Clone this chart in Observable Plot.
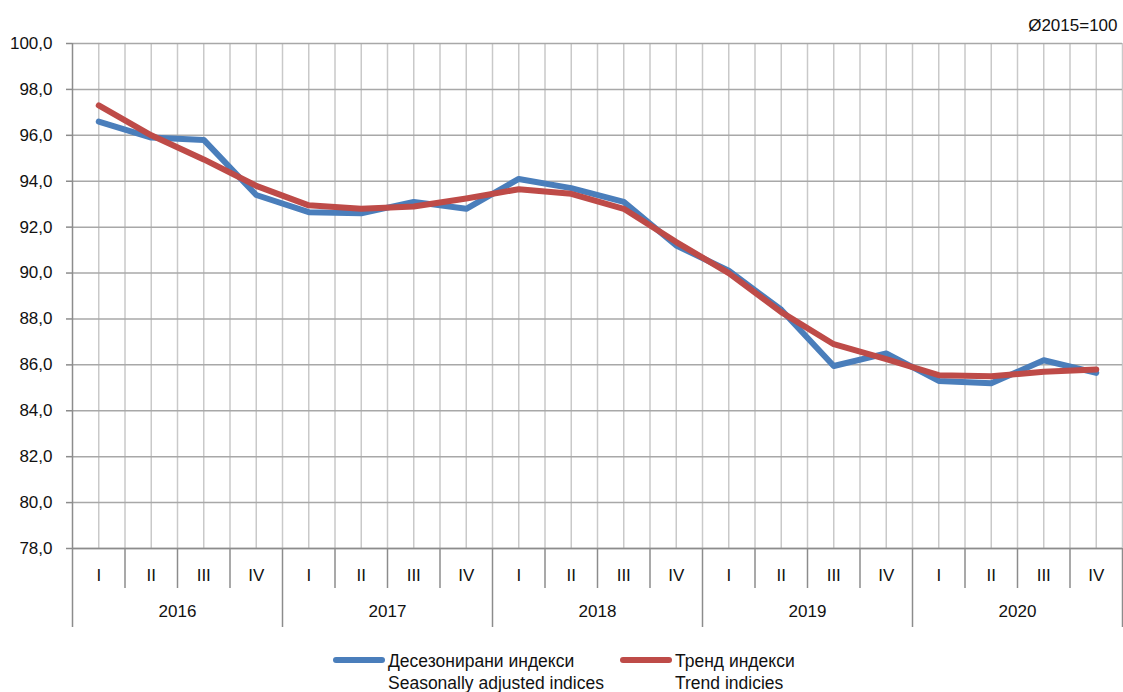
<!DOCTYPE html>
<html>
<head>
<meta charset="utf-8">
<script src="https://cdn.jsdelivr.net/npm/d3@7"></script>
<script src="https://cdn.jsdelivr.net/npm/@observablehq/plot@0.6"></script>
<style>
  html, body { margin: 0; padding: 0; background: #fff; }
  body { width: 1123px; height: 692px; overflow: hidden; position: relative; font-family: "Liberation Sans", Arial, sans-serif; }
  #chart svg { display: block; }
  .leg { position: absolute; font-size: 17.5px; color: #111; line-height: 22px; }
  .sw { position: absolute; height: 6px; border-radius: 3px; }
</style>
</head>
<body>
<div id="chart"></div>
<div class="sw" style="left:333px; top:657px; width:52px; background:#4A7EBB;"></div>
<div class="leg" style="left:388px; top:650px;">Десезонирани индекси<br>Seasonally adjusted indices</div>
<div class="sw" style="left:620px; top:657px; width:52px; background:#BE4B48;"></div>
<div class="leg" style="left:675px; top:650px;">Тренд индекси<br>Trend indicies</div>
<script>
const years = ["2016", "2017", "2018", "2019", "2020"];
const quarters = ["I", "II", "III", "IV"];
const seasonal = [96.6, 95.9, 95.8, 93.4, 92.65, 92.6, 93.1, 92.8, 94.1, 93.7, 93.1, 91.2, 90.1, 88.4, 85.95, 86.5, 85.3, 85.2, 86.2, 85.65];
const trend = [97.3, 96.0, 94.95, 93.8, 92.95, 92.8, 92.9, 93.25, 93.65, 93.45, 92.8, 91.35, 90.0, 88.3, 86.9, 86.25, 85.55, 85.5, 85.7, 85.8];
const yTicks = [78, 80, 82, 84, 86, 88, 90, 92, 94, 96, 98, 100];
const baseLabel = "Ø2015=100";

const W = 1123, H = 648, mT = 43, mB = H - 548, mL = 72, mR = 1;
const yMin = 78, yMax = 100;
const pxPerUnit = (H - mT - mB) / (yMax - yMin);
const below = (px) => yMin - px / pxPerUnit; // value at px pixels below the x axis

const n = years.length * quarters.length;
const periods = d3.range(n).map(i => ({i, q: quarters[i % 4], y: years[Math.floor(i / 4)]}));
const sRows = periods.map((p, i) => ({...p, value: seasonal[i]}));
const tRows = periods.map((p, i) => ({...p, value: trend[i]}));

const gridX = d3.range(0.5, n + 0.01, 0.5);
const qSep = d3.range(1, n).filter(k => k % 4 !== 0);
const ySep = d3.range(0, n + 1, 4);

const chart = Plot.plot({
  width: W, height: H,
  marginTop: mT, marginBottom: mB, marginLeft: mL, marginRight: mR,
  style: {fontFamily: "Liberation Sans, Arial, sans-serif", fontSize: "17px", color: "#111", background: "#fff"},
  x: {domain: [0, n], axis: null},
  y: {domain: [yMin, yMax], axis: null},
  marks: [
    Plot.ruleX(gridX, {y1: yMin, y2: yMax, stroke: "#c9c9c9", strokeWidth: 1.5}),
    Plot.ruleY(yTicks, {x1: 0, x2: n, stroke: "#a8a8a8", strokeWidth: 1.5}),
    Plot.ruleY(yTicks, {x1: -6 / ((W - mL - mR) / n), x2: 0, stroke: "#8c8c8c", strokeWidth: 1.5}),
    Plot.ruleX(qSep, {y1: yMin, y2: below(40), stroke: "#8c8c8c", strokeWidth: 1.5}),
    Plot.ruleX(ySep.slice(1), {y1: yMin, y2: below(79), stroke: "#8c8c8c", strokeWidth: 1.5}),
    Plot.ruleX([0], {y1: yMax, y2: below(79), stroke: "#8c8c8c", strokeWidth: 1.5}),
    Plot.ruleY([yMin], {x1: 0, x2: n, stroke: "#8c8c8c", strokeWidth: 1.5}),
    Plot.text(yTicks, {x: 0, y: d => d, text: d => d.toFixed(1).replace(".", ","), textAnchor: "end", dx: -20, fill: "#111"}),
    Plot.text(periods, {x: d => d.i + 0.5, y: yMin, text: "q", dy: 27, fill: "#111"}),
    Plot.text(years, {x: (d, k) => k * 4 + 2, y: yMin, text: d => d, dy: 63, fill: "#111"}),
    Plot.text([baseLabel], {x: n, y: yMax, text: d => d, textAnchor: "end", dx: -5, dy: -18, fill: "#111"}),
    Plot.line(sRows, {x: d => d.i + 0.5, y: "value", stroke: "#4A7EBB", strokeWidth: 6, strokeLinejoin: "round", strokeLinecap: "round"}),
    Plot.line(tRows, {x: d => d.i + 0.5, y: "value", stroke: "#BE4B48", strokeWidth: 6, strokeLinejoin: "round", strokeLinecap: "round"})
  ]
});
document.getElementById("chart").appendChild(chart);
</script>
</body>
</html>
